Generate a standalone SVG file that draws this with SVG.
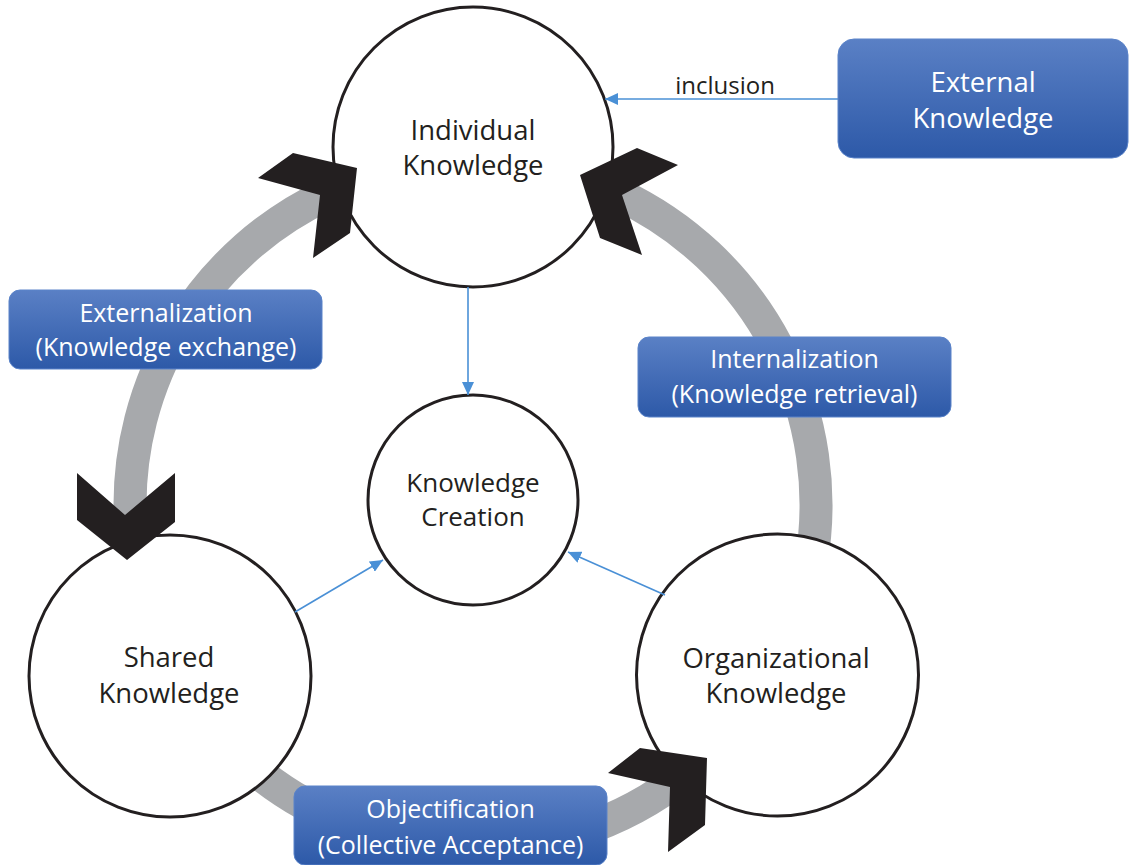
<svg xmlns="http://www.w3.org/2000/svg" width="1133" height="865" viewBox="0 0 1133 865">
  <style>
    .ring { fill: none; stroke: #a7a9ac; stroke-width: 33; }
    .node { fill: #ffffff; stroke: #231f20; stroke-width: 3; }
    .chev { fill: #231f20; }
    .label { font-family: "Open Sans", "Liberation Sans", sans-serif; fill: #231f20; text-anchor: middle; }
    .box { fill: url(#boxGrad); stroke: #5a83c9; stroke-width: 1; }
    .boxtext { font-family: "Open Sans", "Liberation Sans", sans-serif; fill: #ffffff; text-anchor: middle; font-size: 25px; }
    .big { font-size: 27.5px; }
    .link { fill: none; stroke: #4a90d6; stroke-width: 1.6; marker-end: url(#tip); }
  </style>
  <defs>
    <linearGradient id="boxGrad" x1="0" y1="0" x2="0" y2="1">
      <stop offset="0" stop-color="#5a80c5"/>
      <stop offset="1" stop-color="#2d59a8"/>
    </linearGradient>
    <marker id="tip" markerUnits="userSpaceOnUse" markerWidth="13" markerHeight="12" refX="13" refY="6" orient="auto">
      <path d="M0,0 L13,6 L0,12 z" fill="#4a90d6"/>
    </marker>
  </defs>

  <!-- grey cycle bands (one ring, centre 473,505, radius 343) -->
  <g id="cycle-bands">
    <path class="ring" d="M130.2,517 A343,343 0 0 1 328,194.1"/>
    <path class="ring" d="M618,194.1 A343,343 0 0 1 810.8,564.6"/>
    <path class="ring" d="M674.6,782.5 A343,343 0 0 1 210.2,725.5"/>
  </g>

  <g id="individual">
    <circle class="node" cx="473" cy="147" r="140"/>
    <text class="label big" x="473" y="140">Individual</text>
    <text class="label big" x="473" y="175">Knowledge</text>
  </g>

  <g id="creation">
    <circle class="node" cx="473" cy="500" r="105"/>
    <text class="label" font-size="26" x="473" y="492">Knowledge</text>
    <text class="label" font-size="26" x="473" y="526">Creation</text>
  </g>

  <g id="shared">
    <circle class="node" cx="170" cy="676" r="141"/>
    <text class="label big" x="169" y="667">Shared</text>
    <text class="label big" x="169" y="703">Knowledge</text>
  </g>

  <g id="organizational">
    <circle class="node" cx="777.5" cy="675" r="141"/>
    <text class="label big" x="776" y="668">Organizational</text>
    <text class="label big" x="776" y="703">Knowledge</text>
  </g>

  <!-- chevron heads on the ring -->
  <g id="chevrons">
    <polygon class="chev" points="258,178 293,153 357,168 350,233 313,258 320,195"/>
    <polygon class="chev" points="580,175 637,148 678,165 622,195 642,255 600,238"/>
    <polygon class="chev" points="77,473 125,515 175,473 175,522 127,560 77,520"/>
    <polygon class="chev" points="608,773 640,748 707,758 705,825 668,852 670,787"/>
  </g>

  <g id="connectors">
    <line class="link" x1="468" y1="287" x2="468" y2="395"/>
    <line class="link" x1="295" y1="612" x2="383" y2="560"/>
    <line class="link" x1="665" y1="595" x2="568" y2="552"/>
    <line class="link" x1="838" y1="99" x2="605" y2="99"/>
    <text class="label" font-size="24" x="725" y="94">inclusion</text>
  </g>

  <g id="external">
    <rect class="box" x="838" y="39" width="290" height="119" rx="16"/>
    <text class="boxtext big" x="983" y="92">External</text>
    <text class="boxtext big" x="983" y="128">Knowledge</text>
  </g>

  <g id="externalization">
    <rect class="box" x="9" y="290" width="313" height="79" rx="11"/>
    <text class="boxtext" x="166" y="322">Externalization</text>
    <text class="boxtext" x="166" y="356">(Knowledge exchange)</text>
  </g>

  <g id="internalization">
    <rect class="box" x="638" y="337" width="313" height="80" rx="11"/>
    <text class="boxtext" x="794.5" y="368">Internalization</text>
    <text class="boxtext" x="794.5" y="403">(Knowledge retrieval)</text>
  </g>

  <g id="objectification">
    <rect class="box" x="294" y="786" width="313" height="79" rx="11"/>
    <text class="boxtext" x="450.5" y="818">Objectification</text>
    <text class="boxtext" x="450.5" y="854">(Collective Acceptance)</text>
  </g>
</svg>
